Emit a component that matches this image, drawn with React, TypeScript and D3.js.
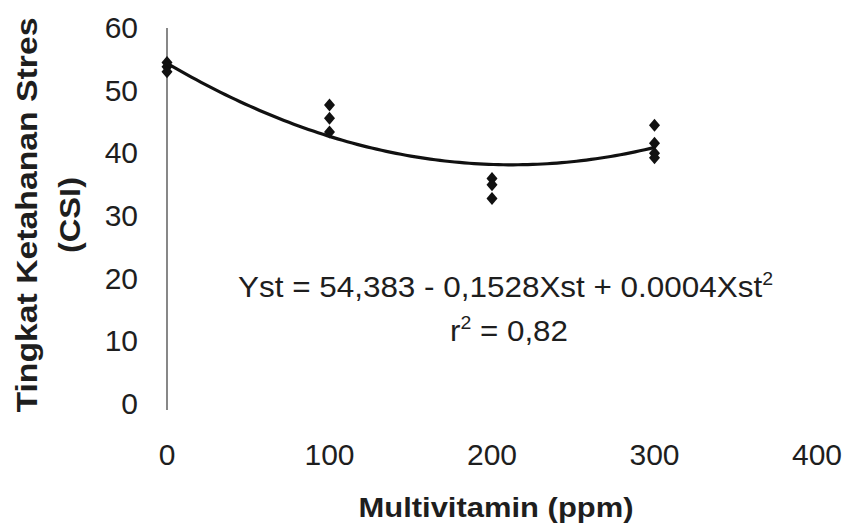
import React from "react";
import * as d3 from "d3";

// Data
const doses = [0, 100, 200, 300];
const csi0 = [54.5, 53.8, 53.0];
const csi100 = [47.7, 45.6, 43.4];
const csi200 = [36.0, 35.0, 32.8];
const csi300 = [44.5, 41.6, 40.0, 39.3];
const xTicks = [0, 100, 200, 300, 400];
const yTicks = [0, 10, 20, 30, 40, 50, 60];
// Quadratic trendline coefficients (as drawn)
const trendCoef = [54.383, -0.1528, 0.00036];

const W = 845;
const H = 528;

export default function App() {
  const x = d3.scaleLinear().domain([0, 400]).range([167, 817]);
  const y = d3.scaleLinear().domain([0, 60]).range([404, 28]);

  const groups = [csi0, csi100, csi200, csi300];
  const points = doses.flatMap((d, i) => groups[i].map((v) => ({ d, v })));

  const curveXs = d3.range(0, 300.01, 3);
  const line = d3
    .line<number>()
    .x((d) => x(d))
    .y((d) => y(trendCoef[0] + trendCoef[1] * d + trendCoef[2] * d * d))
    .curve(d3.curveBasis);

  const diamond = (cx: number, cy: number) =>
    `M${cx},${cy - 6.5}L${cx + 5.5},${cy}L${cx},${cy + 6.5}L${cx - 5.5},${cy}Z`;

  const font = "'Liberation Sans', Arial, sans-serif";
  const ink = "#1e1e1e";

  return (
    <svg
      width={W}
      height={H}
      style={{ position: "absolute", left: 0, top: 0, background: "#fff" }}
      fontFamily={font}
    >
      <rect x={0} y={0} width={W} height={H} fill="#fff" />
      {/* y axis line */}
      <line x1={x(0)} x2={x(0)} y1={y(60)} y2={y(0) + 6} stroke="#6a6a6a" strokeWidth={1.6} />

      {/* y tick labels */}
      {yTicks.map((t) => (
        <text key={t} x={138} y={y(t) + 10} textAnchor="end" fontSize={30} fill={ink}>
          {t}
        </text>
      ))}
      {/* x tick labels */}
      {xTicks.map((t) => (
        <text key={t} x={x(t)} y={465} textAnchor="middle" fontSize={30} fill={ink}>
          {t}
        </text>
      ))}

      {/* trendline */}
      <path d={line(curveXs) || ""} fill="none" stroke="#111" strokeWidth={3.2} />

      {/* observations */}
      {points.map((p, i) => (
        <path key={i} d={diamond(x(p.d), y(p.v))} fill="#111" />
      ))}

      {/* equation */}
      <text
        x={238}
        y={297}
        fontSize={29}
        fill={ink}
        textLength={535}
        lengthAdjust="spacingAndGlyphs"
      >
        Yst = 54,383 - 0,1528Xst + 0.0004Xst
        <tspan dy={-12} fontSize={18}>2</tspan>
      </text>
      <text x={450} y={341} fontSize={29} fill={ink} textLength={118} lengthAdjust="spacingAndGlyphs">
        r<tspan dy={-12} fontSize={18}>2</tspan>
        <tspan dy={12}> = 0,82</tspan>
      </text>

      {/* axis titles */}
      <text
        x={496}
        y={517}
        textAnchor="middle"
        fontSize={28}
        fontWeight="bold"
        fill={ink}
        textLength={275}
        lengthAdjust="spacingAndGlyphs"
      >
        Multivitamin (ppm)
      </text>
      <text
        transform="translate(37,215) rotate(-90)"
        textAnchor="middle"
        fontSize={30}
        fontWeight="bold"
        fill={ink}
        textLength={395}
        lengthAdjust="spacingAndGlyphs"
      >
        Tingkat Ketahanan Stres
      </text>
      <text
        transform="translate(80,215) rotate(-90)"
        textAnchor="middle"
        fontSize={30}
        fontWeight="bold"
        fill={ink}
        textLength={76}
        lengthAdjust="spacingAndGlyphs"
      >
        (CSI)
      </text>
    </svg>
  );
}
